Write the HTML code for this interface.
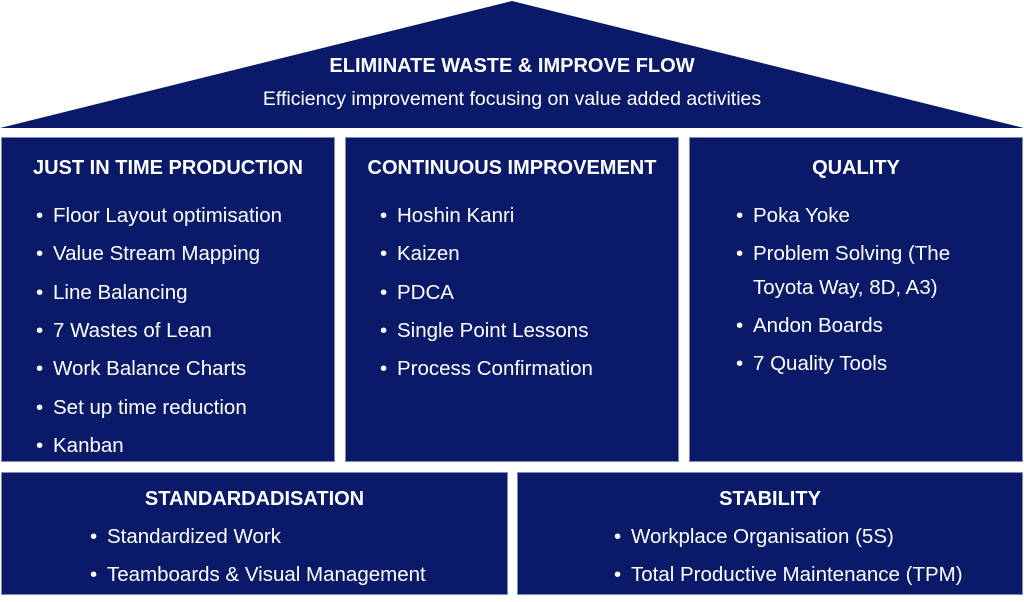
<!DOCTYPE html>
<html><head><meta charset="utf-8"><style>
body{margin:0;width:1024px;height:602px;background:#fff;position:relative;overflow:hidden;font-family:"Liberation Sans",sans-serif;color:#fff}
.b{position:absolute;background:#0a1a68;border:1px solid #7f8cc0;box-sizing:border-box}
.t{position:absolute;font-weight:bold;font-size:20px;white-space:nowrap}
.i{position:absolute;font-size:20.5px;white-space:nowrap}
.i:before{content:"•";position:absolute;left:-17px}
.n:before{content:""}
</style></head><body>
<svg width="1024" height="130" style="position:absolute;left:0;top:0"><polygon points="0,128 512,1 1024,128" fill="#0a1a68"/></svg>
<div class="t" style="left:0;width:1024px;text-align:center;top:55px">ELIMINATE WASTE &amp; IMPROVE FLOW</div>
<div class="i n" style="left:0;width:1024px;text-align:center;top:88px;font-size:19.5px">Efficiency improvement focusing on value added activities</div>

<div class="b" style="left:1px;top:137px;width:334px;height:325px"></div>
<div class="b" style="left:345px;top:137px;width:334px;height:325px"></div>
<div class="b" style="left:689px;top:137px;width:334px;height:325px"></div>
<div class="b" style="left:1px;top:472px;width:507px;height:123px"></div>
<div class="b" style="left:517px;top:472px;width:506px;height:123px"></div>

<div class="t" style="left:1px;width:334px;text-align:center;top:157px">JUST IN TIME PRODUCTION</div>
<div class="i" style="left:53px;top:204px">Floor Layout optimisation</div>
<div class="i" style="left:53px;top:242px">Value Stream Mapping</div>
<div class="i" style="left:53px;top:281px">Line Balancing</div>
<div class="i" style="left:53px;top:319px">7 Wastes of Lean</div>
<div class="i" style="left:53px;top:357px">Work Balance Charts</div>
<div class="i" style="left:53px;top:396px">Set up time reduction</div>
<div class="i" style="left:53px;top:434px">Kanban</div>

<div class="t" style="left:345px;width:334px;text-align:center;top:157px">CONTINUOUS IMPROVEMENT</div>
<div class="i" style="left:397px;top:204px">Hoshin Kanri</div>
<div class="i" style="left:397px;top:242px">Kaizen</div>
<div class="i" style="left:397px;top:281px">PDCA</div>
<div class="i" style="left:397px;top:319px">Single Point Lessons</div>
<div class="i" style="left:397px;top:357px">Process Confirmation</div>

<div class="t" style="left:689px;width:334px;text-align:center;top:157px">QUALITY</div>
<div class="i" style="left:753px;top:204px">Poka Yoke</div>
<div class="i" style="left:753px;top:242px">Problem Solving (The</div>
<div class="i n" style="left:753px;top:276px">Toyota Way, 8D, A3)</div>
<div class="i" style="left:753px;top:314px">Andon Boards</div>
<div class="i" style="left:753px;top:352px">7 Quality Tools</div>

<div class="t" style="left:1px;width:507px;text-align:center;top:488px">STANDARDADISATION</div>
<div class="i" style="left:107px;top:525px">Standardized Work</div>
<div class="i" style="left:107px;top:563px">Teamboards &amp; Visual Management</div>

<div class="t" style="left:517px;width:506px;text-align:center;top:488px">STABILITY</div>
<div class="i" style="left:631px;top:525px">Workplace Organisation (5S)</div>
<div class="i" style="left:631px;top:563px">Total Productive Maintenance (TPM)</div>
</body></html>
